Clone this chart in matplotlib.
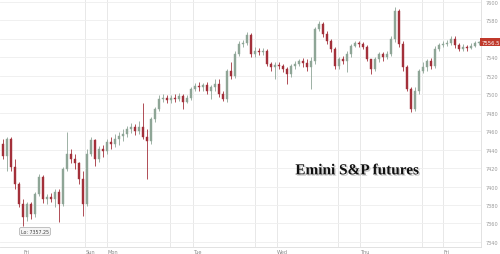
import numpy as np
import matplotlib.pyplot as plt
import matplotlib.patheffects as pe
from matplotlib.patches import Rectangle

# Emini S&P futures, candles (prices)
first_open = 7446
closes = [7433, 7452, 7421, 7403, 7381, 7367, 7381, 7370, 7392, 7410,
          7387, 7389, 7387, 7394, 7381, 7419, 7435, 7430, 7425, 7408,
          7381, 7435, 7450, 7430, 7441, 7439, 7448, 7446, 7452, 7455,
          7457, 7462, 7465, 7460, 7465, 7454, 7449, 7473, 7484, 7495,
          7496, 7494, 7496, 7495, 7498, 7492, 7496, 7506, 7509, 7508,
          7510, 7504, 7508, 7511, 7500, 7495, 7525, 7520, 7544, 7555,
          7556, 7564, 7544, 7547, 7546, 7547, 7533, 7530, 7532, 7531,
          7527, 7522, 7531, 7533, 7536, 7534, 7530, 7536, 7571, 7576,
          7565, 7558, 7549, 7531, 7538, 7536, 7544, 7552, 7556, 7555,
          7551, 7538, 7527, 7538, 7544, 7540, 7544, 7560, 7590, 7555,
          7530, 7506, 7484, 7504, 7525, 7530, 7536, 7531, 7549, 7553,
          7555, 7556, 7560, 7553, 7549, 7551, 7550, 7552, 7555.5, 7556.5]
highs = [7452, 7454, 7454, 7430, 7405, 7387, 7383, 7383, 7394, 7414,
         7413, 7392, 7393, 7397, 7397, 7421, 7459, 7441, 7435, 7427,
         7417, 7441, 7454, 7452, 7444, 7445, 7452, 7454, 7457, 7459,
         7462, 7466, 7469, 7468, 7471, 7490, 7462, 7475, 7486, 7499,
         7500, 7499, 7499, 7500, 7501, 7500, 7499, 7508, 7512, 7513,
         7512, 7513, 7510, 7516, 7517, 7504, 7527, 7535, 7547, 7558,
         7559, 7568, 7566, 7551, 7550, 7550, 7549, 7535, 7535, 7535,
         7533, 7530, 7533, 7536, 7538, 7539, 7538, 7540, 7573, 7579,
         7578, 7569, 7560, 7551, 7540, 7542, 7547, 7555, 7558, 7558,
         7557, 7553, 7538, 7540, 7546, 7546, 7547, 7563, 7595, 7592,
         7558, 7532, 7508, 7508, 7527, 7535, 7538, 7539, 7552, 7556,
         7558, 7559, 7563, 7563, 7556, 7555, 7553, 7556, 7558, 7558]
lows = [7430, 7417, 7417, 7397, 7378, 7357.25, 7363, 7365, 7367, 7390,
        7382, 7381, 7383, 7378, 7362, 7379, 7417, 7425, 7419, 7403,
        7368, 7379, 7433, 7422, 7427, 7432, 7435, 7441, 7443, 7445,
        7449, 7454, 7458, 7456, 7457, 7451, 7408, 7446, 7470, 7482,
        7492, 7491, 7491, 7492, 7493, 7484, 7490, 7494, 7504, 7503,
        7504, 7500, 7495, 7504, 7497, 7493, 7492, 7517, 7518, 7542,
        7551, 7553, 7540, 7540, 7543, 7543, 7531, 7525, 7517, 7527,
        7524, 7511, 7519, 7527, 7531, 7530, 7525, 7506, 7533, 7569,
        7562, 7555, 7546, 7527, 7527, 7533, 7524, 7540, 7551, 7551,
        7549, 7536, 7522, 7525, 7535, 7536, 7538, 7542, 7557, 7551,
        7525, 7503, 7481, 7482, 7500, 7523, 7525, 7527, 7528, 7547,
        7551, 7552, 7553, 7550, 7547, 7547, 7547, 7549, 7551, 7553]
opens = [first_open] + closes[:-1]

day_labels = ['Fri', 'Sun', 'Mon', 'Tue', 'Wed', 'Thu', 'Fri']
day_pos = [5.25, 20.75, 26.0, 47.5, 68.5, 89.25, 110.25]
grid_x = [20.5, 26.0, 41.75, 47.5, 63.0, 68.5, 83.75, 89.25, 104.75, 110.0]
last_price = 7556.5
low_price = 7357.25

up_col = '#8ea596'
down_col = '#a3303a'

fig = plt.figure(figsize=(5, 2.55), dpi=100)
ax = fig.add_axes([0.0, 0.028, 0.962, 0.972])

for gx in grid_x:
    ax.axvline(gx, color='#e4e4e4', lw=0.6, zorder=0)
yt = np.arange(7340, 7601, 20)
for yy in yt:
    ax.axhline(yy, color='#eeeeee', lw=0.6, zorder=0)

w = 0.5
for i in range(len(closes)):
    o, c, h, l = opens[i], closes[i], highs[i], lows[i]
    col = up_col if c >= o else down_col
    ax.vlines(i, l, h, color=col, lw=0.6, zorder=2)
    bot = min(o, c)
    ht = max(abs(c - o), 0.6)
    ax.add_patch(Rectangle((i - w / 2, bot), w, ht, facecolor=col,
                           edgecolor=col, lw=0.3, zorder=3))

ax.set_xlim(-0.75, 119.5)
ax.set_ylim(7334.6, 7603.25)
ax.set_xticks([])
ax.yaxis.tick_right()
ax.set_yticks(yt)
# the 7560 label sits under the last-price tag
ax.set_yticklabels(['' if v == 7560 else str(v) for v in yt],
                   fontsize=3.6, color='#999999')
ax.tick_params(axis='y', length=0, pad=3)
for s in ['top', 'left']:
    ax.spines[s].set_visible(False)
ax.spines['right'].set_color('#dddddd')
ax.spines['bottom'].set_color('#dddddd')
ax.spines['right'].set_linewidth(0.6)
ax.spines['bottom'].set_linewidth(0.6)

for lab, p in zip(day_labels, day_pos):
    ax.text(p, 7334.6 - 2, lab, fontsize=3.6, color='#888888',
            ha='left', va='top', clip_on=False)

# last price tag
ax.text(119.7, last_price, f'{last_price:.1f}', fontsize=3.8, color='white',
        ha='left', va='center', clip_on=False,
        bbox=dict(boxstyle='square,pad=0.25', fc='#c0392b', ec='none'))

# session low tag
ax.text(8.0, low_price - 6, f'Lo: {low_price:.2f}', fontsize=3.4, color='#444444',
        ha='center', va='center',
        bbox=dict(boxstyle='round,pad=0.3', fc='#f4f4f4', ec='#aaaaaa', lw=0.5))

ax.text(88.5, 7417, 'Emini S&P futures', fontsize=11, fontweight='bold',
        family='Liberation Serif', color='#111111', ha='center', va='center',
        path_effects=[pe.withSimplePatchShadow(offset=(1, -1), shadow_rgbFace='#999999', alpha=0.5)])

fig.savefig('out.png', dpi=100, facecolor='white')
